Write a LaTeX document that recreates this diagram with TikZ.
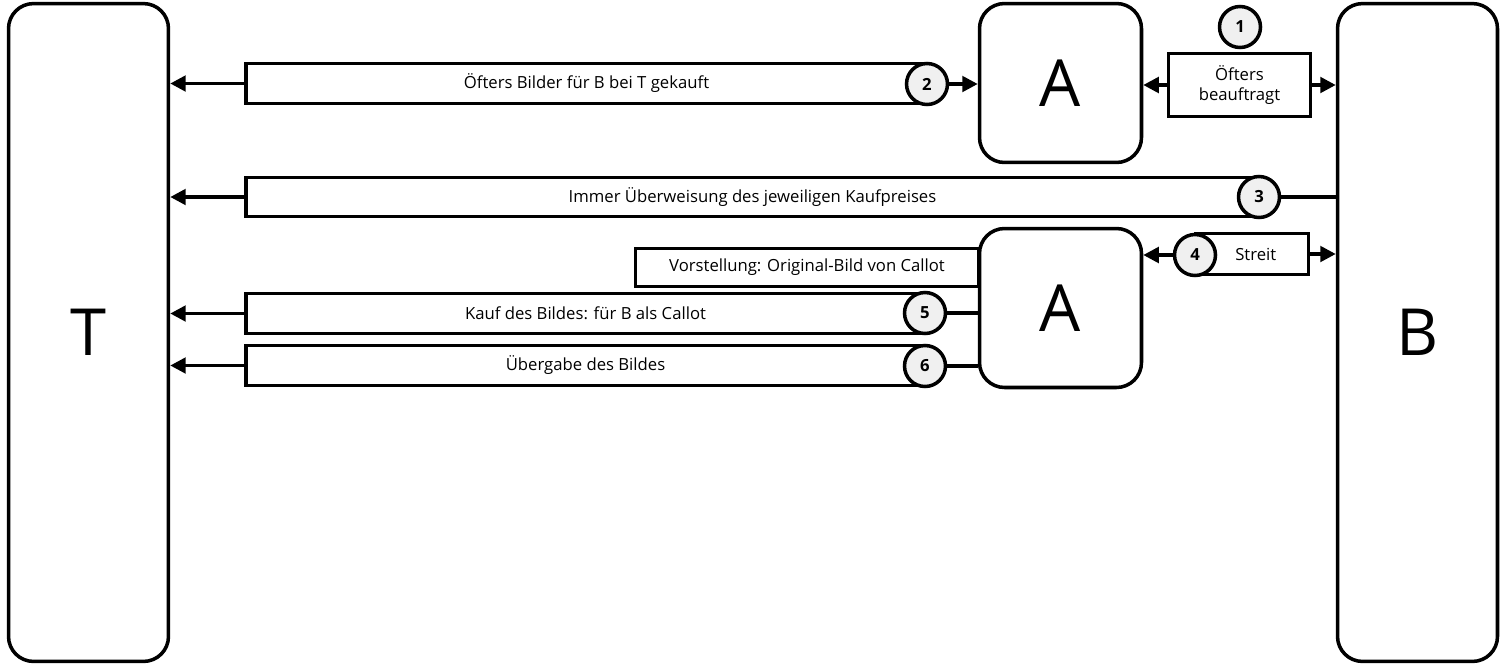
\documentclass[tikz,border=0pt]{standalone}
\usepackage{fontspec}
\setmainfont{Open Sans}
\usetikzlibrary{arrows.meta, positioning}
\definecolor{stepfill}{HTML}{F0F0F0}
\definecolor{lineblack}{HTML}{000000}

\begin{document}
\begin{tikzpicture}[
  x=0.02cm, y=-0.02cm,
  font=\fontsize{9.5}{11.5}\selectfont,
  party/.style  ={draw=lineblack, line width=2pt, rounded corners=0.5cm,
                  inner sep=0pt, font=\fontsize{37}{40}\selectfont},
  tall/.style   ={party, minimum width=3.2cm, minimum height=13.16cm},
  mid/.style    ={party, minimum width=3.24cm, minimum height=3.18cm},
  lbl/.style    ={draw=lineblack, line width=2pt, fill=white, inner sep=0pt,
                  minimum height=0.8cm, align=center},
  num/.style    ={circle, draw=lineblack, line width=2pt, fill=stepfill,
                  minimum size=0.82cm, inner sep=0pt, font=\fontsize{9.5}{11}\selectfont\bfseries},
  flow/.style   ={-{Triangle[length=3.1mm, width=3.1mm]}, line width=2pt},
  link/.style   ={line width=2pt},
]
\useasboundingbox (0,0) rectangle (1501,667);

% parties
\node[tall] (t)    at (88.5,332.5)  {T};
\node[tall] (b)    at (1417.5,332.5) {B};
\node[mid]  (aone) at (1060.5,83)    {A};
\node[mid]  (atwo) at (1060.5,308)   {A};

% label boxes
\node[lbl, minimum width=13.62cm] (kauf)  at (586.5,83.5)
      {Öfters Bilder für B bei T gekauft};
\node[lbl, minimum width=2.84cm, minimum height=1.26cm] (auftrag) at (1239.5,85)
      {Öfters\\beauftragt};
\node[lbl, minimum width=20.26cm, minimum height=0.78cm] (zahl) at (752.5,197)
      {Immer Überweisung des jeweiligen Kaufpreises};
\node[lbl, minimum width=6.86cm, minimum height=0.76cm] (vorst) at (807,267.5)
      {Vorstellung: Original-Bild von Callot};
\node[lbl, minimum width=2.26cm, minimum height=0.82cm] (streit) at (1252,254)
      {\hspace*{0.15cm}Streit};
\node[lbl, minimum width=13.58cm] (callot) at (585.5,313.5)
      {Kauf des Bildes: für B als Callot};
\node[lbl, minimum width=13.58cm] (gabe)   at (585.5,365.5)
      {Übergabe des Bildes};

% step numbers
\node[num] (n1) at (1240,27)  {1};
\node[num] (n2) at (927,84)   {2};
\node[num] (n3) at (1259,197) {3};
\node[num] (n4) at (1195,255) {4};
\node[num] (n5) at (925,313)  {5};
\node[num] (n6) at (925,366)  {6};

% connectors
\draw[flow] (kauf.west)    -- (kauf.west -| t.east);
\draw[flow] (n2.east)      -- (n2.east -| aone.west);
\draw[flow] (auftrag.west) -- (auftrag.west -| aone.east);
\draw[flow] (auftrag.east) -- (auftrag.east -| b.west);
\draw[flow] (zahl.west)    -- (zahl.west -| t.east);
\draw[link] (n3.east)      -- (n3.east -| b.west);
\draw[flow] (n4.west)      -- (n4.west -| atwo.east);
\draw[flow] (streit.east)  -- (streit.east -| b.west);
\draw[flow] (callot.west)  -- (callot.west -| t.east);
\draw[link] (n5.east)      -- (n5.east -| atwo.west);
\draw[flow] (gabe.west)    -- (gabe.west -| t.east);
\draw[link] (n6.east)      -- (n6.east -| atwo.west);

\end{tikzpicture}
\end{document}
